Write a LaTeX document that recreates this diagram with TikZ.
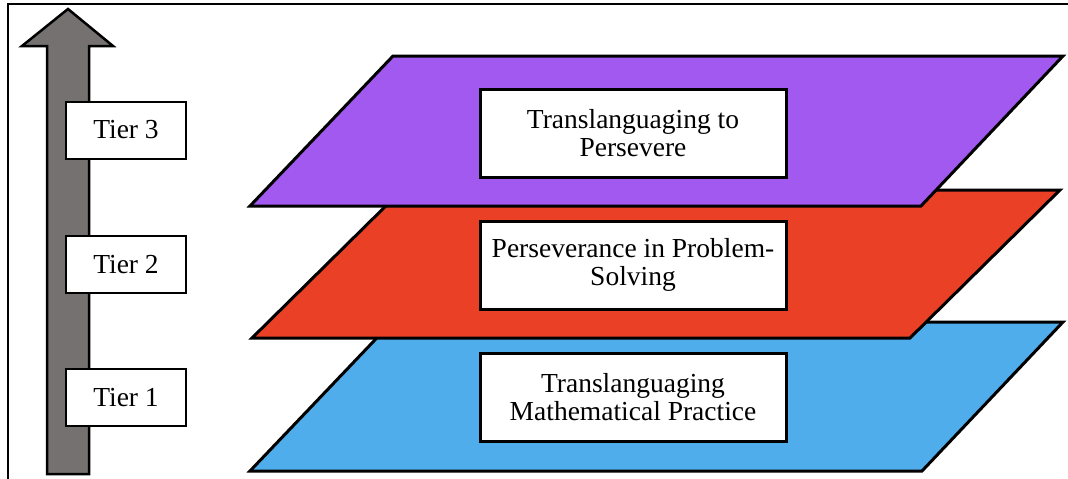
\documentclass[tikz,border=0pt]{standalone}
\usepackage{fontspec}
\setmainfont{Liberation Serif}
\definecolor{tpurple}{RGB}{162,89,240}
\definecolor{tred}{RGB}{234,65,38}
\definecolor{tblue}{RGB}{78,173,234}
\definecolor{tgrey}{RGB}{117,113,113}
\begin{document}
\begin{tikzpicture}[x=1pt,y=-1pt,
  plane/.style={draw=black,line width=3pt,line join=miter},
  labelbox/.style={draw=black,fill=white,line width=3pt,minimum width=306pt,minimum height=88pt,align=center,inner sep=0pt,font=\fontsize{27.5}{27.5}\selectfont},
  tierbox/.style={draw=black,fill=white,line width=2pt,minimum width=120pt,minimum height=57pt,inner sep=0pt,font=\fontsize{27.5}{28}\selectfont}]
\useasboundingbox (0,0) rectangle (1068,479);
% frame
\draw[line width=1.5pt] (8,479) -- (8,4) -- (1068,4);
% arrow
\draw[fill=tgrey,line width=2.5pt,line join=miter] (68,9) -- (113,46) -- (89,46) -- (89,474) -- (47,474) -- (47,46) -- (22,46) -- cycle;
% planes (bottom to top)
\draw[plane,fill=tblue] (392,322) -- (1063,322) -- (922,471) -- (250,471) -- cycle;
\draw[plane,fill=tred] (402,190) -- (1060,190) -- (910,338) -- (252,338) -- cycle;
\draw[plane,fill=tpurple] (393,56) -- (1063,56) -- (921,206) -- (250,206) -- cycle;
% label boxes
\node[labelbox] (l3) at (633,133) {Translanguaging to\\Persevere};
\node[labelbox] (l2) at (633,265) {Perseverance in Problem-\\Solving};
\node[labelbox] (l1) at (633,397) {Translanguaging\\Mathematical Practice};
% tier boxes
\node[tierbox] (t3) at (126,130) {Tier 3};
\node[tierbox] (t2) at (126,264.5) {Tier 2};
\node[tierbox] (t1) at (126,397.5) {Tier 1};
\end{tikzpicture}
\end{document}
